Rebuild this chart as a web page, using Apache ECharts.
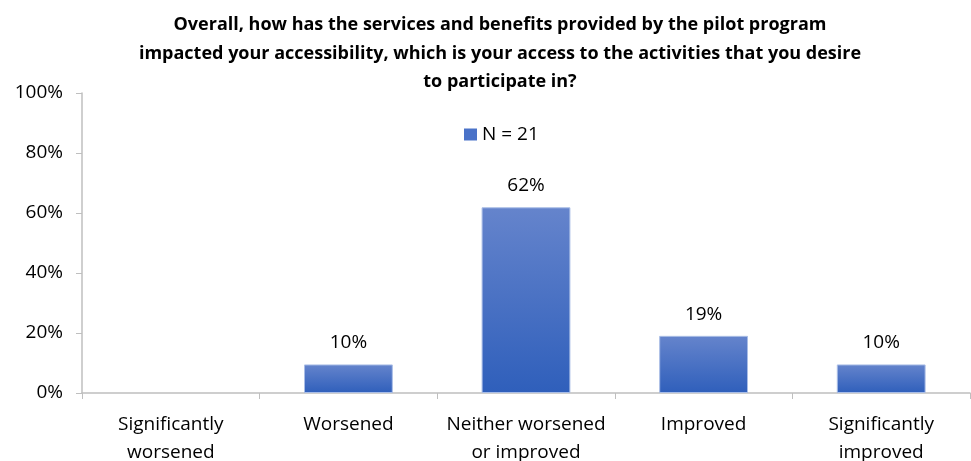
<!DOCTYPE html>
<html>
<head>
<meta charset="utf-8">
<script src="https://cdn.jsdelivr.net/npm/echarts@6/dist/echarts.min.js"></script>
<style>html,body{margin:0;padding:0;background:#fff}#c{width:971px;height:461px}</style>
</head>
<body>
<div id="c"></div>
<script>
const titleText = "Overall, how has the services and benefits provided by the pilot program\nimpacted your accessibility, which is your access to the activities that you desire\nto participate in?";
const categories = ["Significantly\nworsened", "Worsened", "Neither worsened\nor improved", "Improved", "Significantly\nimproved"];
const seriesName = "N = 21";
const values = [0, 9.52, 61.90, 19.05, 9.52];
const yTicks = [0, 20, 40, 60, 80, 100];

const FONT = '"Open Sans", sans-serif';
const chart = echarts.init(document.getElementById('c'), null, {renderer: 'canvas'});
chart.setOption({
  animation: false,
  backgroundColor: '#fff',
  title: {
    text: titleText,
    left: 495, top: 6, textAlign: 'center',
    textStyle: {fontFamily: FONT, fontSize: 18, fontWeight: 'bold', color: '#000', lineHeight: 28.5}
  },
  legend: {
    data: [{name: seriesName, itemStyle: {color: '#4a72c8', borderWidth: 0}}],
    left: 459, top: 120,
    itemWidth: 13, itemHeight: 12, itemGap: 8,
    icon: 'rect',
    textStyle: {fontFamily: FONT, fontSize: 19, color: '#000'}
  },
  grid: {left: 82, right: 1, top: 93, bottom: 68, containLabel: false, outerBoundsMode: 'none'},
  xAxis: {
    type: 'category',
    data: categories,
    axisLine: {lineStyle: {color: '#bfbfbf', width: 1.5}},
    axisTick: {show: true, alignWithLabel: false, length: 6, lineStyle: {color: '#bfbfbf'}},
    axisLabel: {fontFamily: FONT, fontSize: 19, color: '#000', lineHeight: 28, margin: 18, interval: 0}
  },
  yAxis: {
    type: 'value', min: yTicks[0], max: yTicks[yTicks.length - 1], interval: 20,
    axisLine: {show: true, lineStyle: {color: '#bfbfbf', width: 1.5}},
    axisTick: {show: true, length: 6, lineStyle: {color: '#bfbfbf'}},
    splitLine: {show: false},
    axisLabel: {fontFamily: FONT, fontSize: 19, color: '#000', margin: 19, formatter: v => v + '%'}
  },
  series: [{
    name: seriesName,
    type: 'bar',
    data: values.map(v => v > 0 ? v : {value: v, itemStyle: {borderWidth: 0, opacity: 0}}),
    barWidth: '50%',
    itemStyle: {
      color: new echarts.graphic.LinearGradient(0, 0, 0, 1, [
        {offset: 0, color: '#6584cc'},
        {offset: 1, color: '#2f5fbb'}
      ]),
      borderColor: '#a9bde6', borderWidth: 1
    },
    label: {
      show: true, position: 'top', distance: 12,
      fontFamily: FONT, fontSize: 19, color: '#000',
      formatter: p => p.value > 0 ? Math.round(p.value) + '%' : ''
    }
  }]
});
</script>
</body>
</html>
